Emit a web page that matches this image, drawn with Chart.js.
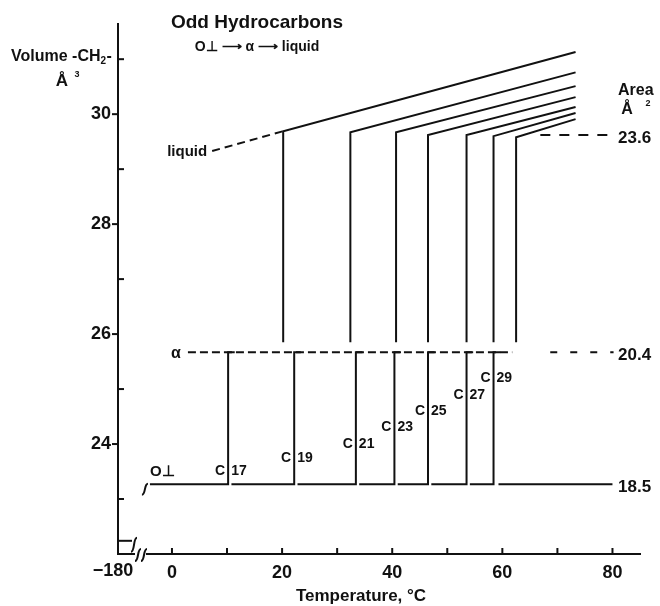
<!DOCTYPE html>
<html>
<head>
<meta charset="utf-8">
<script src="https://cdn.jsdelivr.net/npm/chart.js@4.4.1/dist/chart.umd.min.js"></script>
<style>
  body { margin: 0; background: #fff; }
  #wrap { width: 660px; height: 606px; }
</style>
</head>
<body>
<div id="wrap"><canvas id="grafico" width="660" height="606"></canvas></div>
<script>
// Datos (Temperatura en °C, volumen por -CH2- en Å3)
const compuestos = ['17', '19', '21', '23', '25', '27', '29'];
const tOrtoAlfa = [10.2, 22.2, 33.4, 40.4, 46.5, 53.5, 58.4];     // O⊥ -> α
const tInicioOrto = [-4, 10.8, 22.8, 34.0, 41.0, 47.1, 54.1, 59.3]; // tramos O⊥
const tFinOrto = [10.2, 22.2, 33.4, 40.4, 46.5, 53.5, 58.4, 80];
const tFusion = [20.2, 32.4, 40.7, 46.5, 53.5, 58.4, 62.5];         // α -> líquido
const volLiqInicio = [29.69, 29.67, 29.67, 29.62, 29.62, 29.60, 29.58];
const volLiqFin = [31.13, 30.76, 30.51, 30.31, 30.13, 30.02, 29.91];
const tLiqFin = 73.3;
const volOrto = 23.27;
const volAlfa = 25.67;
const volBaseFusion = 25.85;
const alturaEtiquetaC = [23.51, 23.75, 24.0, 24.31, 24.6, 24.89, 25.2];
const liqExtension = [[7.3, 29.33], [20.2, 29.69]];
const alfaExtension = [2.9, 61.8];
const areaTramos = [
  { texto: '23.6', vol: 29.62, desde: 66.9, hasta: 79.1, dash: [10, 9] },
  { texto: '20.4', vol: 25.67, desde: 68.7, hasta: 80.2, dash: [7, 13] },
  { texto: '18.5', vol: 23.27, desde: null, hasta: null, dash: null }
];
const xTicks = [0, 10, 20, 30, 40, 50, 60, 70, 80];
const xEtiquetas = [0, 20, 40, 60, 80];
const yTicks = [23, 24, 25, 26, 27, 28, 29, 30, 31];
const yEtiquetas = [24, 26, 28, 30];
const X_MIN = -9.8, X_MAX = 85, Y_MIN = 22, Y_MAX = 31.64;

const FUENTE = '"Liberation Sans", Arial, sans-serif';
const NEGRO = '#111';

// Construcción de las series
const ortoDatos = [];
tInicioOrto.forEach((ini, i) => {
  ortoDatos.push({ x: ini, y: volOrto }, { x: tFinOrto[i], y: volOrto });
  if (i < tOrtoAlfa.length) {
    ortoDatos.push({ x: tOrtoAlfa[i], y: volAlfa }, { x: tOrtoAlfa[i] + 1.2, y: volAlfa });
  }
  ortoDatos.push({ x: tFinOrto[i] + 0.1, y: null });
});

const liqDatos = [];
tFusion.forEach((t, i) => {
  liqDatos.push({ x: t, y: volBaseFusion }, { x: t, y: volLiqInicio[i] }, { x: tLiqFin, y: volLiqFin[i] }, { x: tLiqFin + 0.1, y: null });
});

function serie(datos, dash) {
  return {
    data: datos,
    borderColor: NEGRO,
    borderWidth: 2,
    borderDash: dash || [],
    pointRadius: 0,
    fill: false,
    tension: 0,
    spanGaps: false
  };
}

const datasets = [
  serie(ortoDatos),
  serie(liqDatos),
  serie([{ x: alfaExtension[0], y: volAlfa }, { x: alfaExtension[1], y: volAlfa }], [8, 4]),
  serie(liqExtension.map(p => ({ x: p[0], y: p[1] })), [8, 5])
];
areaTramos.filter(a => a.dash).forEach(a => {
  datasets.push(serie([{ x: a.desde, y: a.vol }, { x: a.hasta, y: a.vol }], a.dash));
});

function texto(ctx, s, x, y, size, align) {
  ctx.font = 'bold ' + size + 'px ' + FUENTE;
  ctx.textAlign = align || 'left';
  ctx.textBaseline = 'middle';
  ctx.fillStyle = NEGRO;
  ctx.fillText(s, x, y);
}

function ese(ctx, cx, cy, h) {
  ctx.beginPath();
  ctx.moveTo(cx - 3, cy + h / 2);
  ctx.bezierCurveTo(cx + 1, cy + h / 2, cx - 1, cy - h / 2, cx + 3, cy - h / 2);
  ctx.stroke();
}

const decoraciones = {
  id: 'decoraciones',
  afterDraw(chart) {
    const { ctx, scales: { x, y } } = chart;
    const px = v => x.getPixelForValue(v);
    const py = v => y.getPixelForValue(v);
    ctx.save();
    ctx.strokeStyle = NEGRO;
    ctx.lineWidth = 2;

    // marcas del eje x hacia arriba
    xTicks.forEach(v => {
      ctx.beginPath();
      ctx.moveTo(px(v), y.bottom);
      ctx.lineTo(px(v), y.bottom - 6);
      ctx.stroke();
    });
    // marcas del eje y: mayores a la izquierda, menores a la derecha
    yTicks.forEach(v => {
      const mayor = yEtiquetas.includes(v);
      ctx.beginPath();
      ctx.moveTo(x.left, py(v));
      ctx.lineTo(x.left + (mayor ? -6 : 6), py(v));
      ctx.stroke();
    });

    // corte de ejes abajo a la izquierda
    const yCorte = py(22.24);
    ctx.beginPath();
    ctx.moveTo(x.left, yCorte);
    ctx.lineTo(x.left + 14, yCorte);
    ctx.stroke();
    ese(ctx, x.left + 16, yCorte + 4, 14);
    ctx.fillStyle = '#fff';
    ctx.fillRect(x.left + 17, y.bottom - 3, 11, 6);
    ese(ctx, x.left + 20, y.bottom + 1, 12);
    ese(ctx, x.left + 26, y.bottom + 1, 12);
    texto(ctx, '−180', x.left - 5, 571, 18, 'center');

    // inicio ondulado de la línea O⊥
    ese(ctx, px(tInicioOrto[0]) - 5, py(volOrto) + 5, 11);

    // etiquetas C n
    compuestos.forEach((n, i) => {
      const xv = px(tOrtoAlfa[i]);
      const yv = py(alturaEtiquetaC[i]);
      texto(ctx, 'C', xv - 3, yv, 14, 'right');
      texto(ctx, n, xv + 3, yv, 14, 'left');
    });

    // etiquetas de fase
    texto(ctx, 'liquid', px(liqExtension[0][0]) - 5, py(liqExtension[0][1]) + 1, 15, 'right');
    texto(ctx, 'α', px(alfaExtension[0]) - 7, py(volAlfa) + 1, 16, 'right');
    texto(ctx, 'O⊥', px(tInicioOrto[0]), py(volOrto) - 12, 15, 'left');

    // escala de área a la derecha
    areaTramos.forEach(a => {
      texto(ctx, a.texto, 618, py(a.vol) + 3, 17, 'left');
    });
    texto(ctx, 'Area', 618, 91, 16, 'left');
    texto(ctx, 'Å', 627, 110, 16, 'center');
    texto(ctx, '2', 648, 104, 9, 'center');

    // títulos
    texto(ctx, 'Odd Hydrocarbons', 257, 23, 19, 'center');
    texto(ctx, 'O⊥ ⟶ α ⟶ liquid', 257, 47, 14, 'center');
    texto(ctx, 'Volume -CH', 11, 57, 16, 'left');
    ctx.font = 'bold 16px ' + FUENTE;
    const w = ctx.measureText('Volume -CH').width;
    texto(ctx, '2', 11 + w, 61, 10, 'left');
    texto(ctx, '-', 11 + w + 6, 57, 16, 'left');
    texto(ctx, 'Å', 62, 81, 17, 'center');
    texto(ctx, '3', 77, 75, 9, 'center');
    texto(ctx, 'Temperature, °C', 361, 596, 17, 'center');
    ctx.restore();
  }
};

document.addEventListener('DOMContentLoaded', () => {
  const ctxGrafico = document.getElementById('grafico').getContext('2d');
  new Chart(ctxGrafico, {
    type: 'line',
    data: { datasets: datasets },
    options: {
      responsive: false,
      animation: false,
      devicePixelRatio: 1,
      layout: { padding: { left: 0, right: 20, top: 24, bottom: 0 } },
      plugins: { legend: { display: false }, tooltip: { enabled: false } },
      scales: {
        x: {
          type: 'linear',
          min: X_MIN,
          max: X_MAX,
          afterFit: s => { s.height = 52; },
          afterBuildTicks: s => { s.ticks = xEtiquetas.map(v => ({ value: v })); },
          grid: { display: false, drawTicks: false },
          border: { display: true, color: NEGRO, width: 2 },
          ticks: {
            autoSkip: false,
            maxRotation: 0,
            padding: 8,
            color: NEGRO,
            font: { family: FUENTE, size: 18, weight: 'bold' },
            callback: v => String(v)
          }
        },
        y: {
          type: 'linear',
          min: Y_MIN,
          max: Y_MAX,
          afterFit: s => { s.width = 118; },
          afterBuildTicks: s => { s.ticks = yEtiquetas.map(v => ({ value: v })); },
          grid: { display: false, drawTicks: false },
          border: { display: true, color: NEGRO, width: 2 },
          ticks: {
            padding: 7,
            color: NEGRO,
            font: { family: FUENTE, size: 18, weight: 'bold' },
            callback: v => String(v)
          }
        }
      }
    },
    plugins: [decoraciones]
  });
});
</script>
</body>
</html>
